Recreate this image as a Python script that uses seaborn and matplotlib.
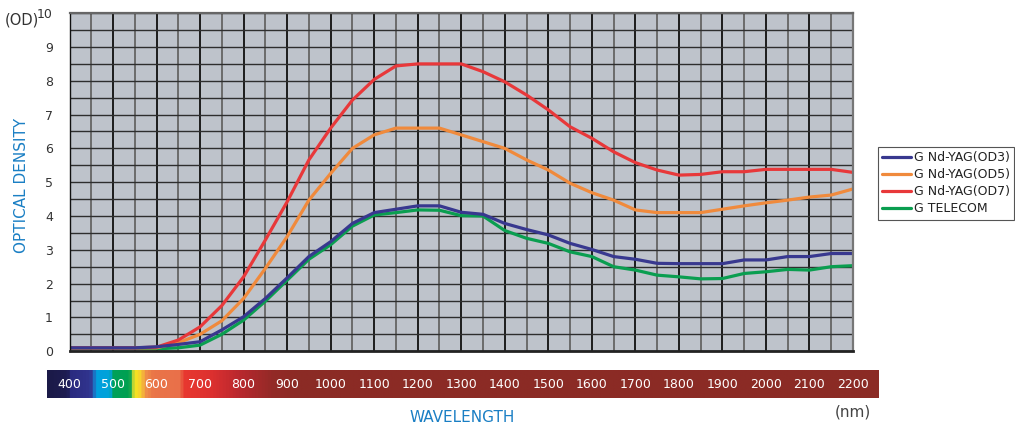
import numpy as np
import pandas as pd
import matplotlib
matplotlib.use("Agg")
import matplotlib.pyplot as plt
import seaborn as sns
from matplotlib.colors import LinearSegmentedColormap
from matplotlib.ticker import MultipleLocator

# ---------------- data ----------------
wavelength = [400, 450, 500, 550, 600, 650, 700, 750, 800, 850, 900, 950, 1000,
              1050, 1100, 1150, 1200, 1250, 1300, 1350, 1400, 1450, 1500, 1550,
              1600, 1650, 1700, 1750, 1800, 1850, 1900, 1950, 2000, 2050, 2100,
              2150, 2200]
od3 = [0.1, 0.1, 0.1, 0.1, 0.13, 0.2, 0.28, 0.63, 1.02, 1.56, 2.17, 2.8, 3.24,
       3.78, 4.1, 4.2, 4.3, 4.3, 4.11, 4.05, 3.78, 3.6, 3.44, 3.19, 3.01, 2.8,
       2.72, 2.6, 2.59, 2.59, 2.59, 2.7, 2.7, 2.8, 2.8, 2.89, 2.89]
od5 = [0.1, 0.1, 0.1, 0.1, 0.1, 0.25, 0.5, 0.9, 1.56, 2.45, 3.39, 4.47, 5.26,
       6.0, 6.4, 6.6, 6.6, 6.6, 6.4, 6.2, 6.0, 5.66, 5.36, 4.97, 4.69, 4.47,
       4.18, 4.1, 4.1, 4.1, 4.2, 4.3, 4.39, 4.47, 4.56, 4.62, 4.8]
od7 = [0.1, 0.1, 0.1, 0.1, 0.12, 0.33, 0.72, 1.35, 2.2, 3.29, 4.42, 5.66, 6.6,
       7.43, 8.04, 8.44, 8.5, 8.5, 8.5, 8.27, 7.97, 7.58, 7.14, 6.64, 6.3, 5.9,
       5.58, 5.36, 5.21, 5.23, 5.31, 5.31, 5.38, 5.38, 5.38, 5.38, 5.29]
telecom = [0.09, 0.09, 0.09, 0.09, 0.07, 0.1, 0.18, 0.5, 0.92, 1.48, 2.1, 2.72,
           3.15, 3.7, 4.03, 4.1, 4.18, 4.17, 4.01, 4.0, 3.57, 3.34, 3.19, 2.94,
           2.8, 2.5, 2.4, 2.25, 2.2, 2.14, 2.15, 2.3, 2.35, 2.42, 2.4, 2.5, 2.53]

series_names = ["G Nd-YAG(OD3)", "G Nd-YAG(OD5)", "G Nd-YAG(OD7)", "G TELECOM"]
series_values = [od3, od5, od7, telecom]
series_colors = ["#38388f", "#f08a3c", "#e8383a", "#0a9e50"]
bar_ticks = list(range(400, 2201, 100))
y_ticks = list(range(0, 11))
y_ticklabels = [str(v) for v in y_ticks]

df = pd.DataFrame({
    "wavelength": np.tile(wavelength, len(series_names)),
    "od": np.concatenate(series_values),
    "series": np.repeat(series_names, len(wavelength)),
})

# ---------------- style ----------------
sns.set_style("white")
plt.rcParams["font.family"] = ["DejaVu Sans"]

W, H = 1015, 428
fig = plt.figure(figsize=(W / 100, H / 100), dpi=100)
L, R, T, B = 69.5, 853.0, 13.2, 351.2
ax = fig.add_axes([L / W, 1 - B / H, (R - L) / W, (B - T) / H])
ax.set_facecolor("#bec3cb")

draw_order = [series_names[i] for i in (3, 1, 2, 0)]
palette = dict(zip(series_names, series_colors))
sns.lineplot(data=df, x="wavelength", y="od", hue="series", hue_order=draw_order,
             palette=palette, linewidth=2.3, ax=ax, legend=True)

ax.set_xlim(400, 2200)
ax.set_ylim(0, 10)
ax.xaxis.set_major_locator(MultipleLocator(100))
ax.xaxis.set_minor_locator(MultipleLocator(50))
ax.set_yticks(y_ticks)
ax.set_yticklabels(y_ticklabels)
ax.yaxis.set_minor_locator(MultipleLocator(0.5))
ax.set_axisbelow(True)
ax.grid(which="major", axis="x", color="#1c1c1c", linewidth=1.4)
ax.grid(which="minor", axis="x", color="#6b6b6b", linewidth=1.4)
ax.grid(which="both", axis="y", color="#2e2e2e", linewidth=1.0)
ax.tick_params(axis="x", which="both", length=0, labelbottom=False)
ax.tick_params(axis="y", which="both", length=0, labelsize=9,
               labelcolor="#333333", pad=12)
ax.set_xlabel("")
ax.set_ylabel("")
for side, col, lw in (("left", "#111111", 1.0), ("bottom", "#222222", 2.0),
                      ("top", "#666666", 1.6), ("right", "#777777", 1.6)):
    ax.spines[side].set_visible(True)
    ax.spines[side].set_color(col)
    ax.spines[side].set_linewidth(lw)

# legend in original order
handles, labels = ax.get_legend_handles_labels()
hmap = dict(zip(labels, handles))
leg = ax.legend([hmap[n] for n in series_names], series_names,
                loc="upper left", bbox_to_anchor=(878 / W, 1 - 147 / H),
                bbox_transform=fig.transFigure, frameon=True, fancybox=False,
                edgecolor="#555555", framealpha=1, fontsize=9,
                handlelength=2.3, handletextpad=0.2, borderpad=0.35,
                labelspacing=0.32, borderaxespad=0)
leg.get_frame().set_linewidth(0.8)
for t in leg.get_texts():
    t.set_color("#222222")

# axis texts
fig.text(5 / W, 1 - 20 / H, "(OD)", fontsize=10.5, color="#333333",
         ha="left", va="center")
fig.text(22 / W, 1 - 185 / H, "OPTICAL DENSITY", fontsize=11, color="#1a7fc4",
         rotation=90, ha="center", va="center")
fig.text(462 / W, 1 - 418 / H, "WAVELENGTH", fontsize=11, color="#1a7fc4",
         ha="center", va="center")
fig.text(853 / W, 1 - 412 / H, "(nm)", fontsize=11, color="#444444",
         ha="center", va="center")

# spectrum bar
bx0, bx1, by0, by1 = 47, 879, 370, 398
k = 1800 / (R - L)
xlo = 400 - (L - bx0) * k
xhi = 2200 + (bx1 - R) * k
bax = fig.add_axes([bx0 / W, 1 - by1 / H, (bx1 - bx0) / W, (by1 - by0) / H])
stops = [(xlo, "#1b1a48"), (392, "#1e1d52"), (400, "#2a2b80"), (445, "#32358f"),
         (452, "#1f6cc0"), (460, "#00a0df"), (490, "#00a3d8"), (496, "#00a05a"),
         (535, "#00a050"), (541, "#a8cf3c"), (548, "#f5e51e"), (560, "#f7d030"),
         (572, "#ef8f48"), (590, "#ea7548"), (650, "#e9704a"), (662, "#e8382f"),
         (725, "#dc3030"), (790, "#b8282e"), (865, "#932a27"), (920, "#8c2b25"),
         (xhi, "#8b2b25")]
cmap = LinearSegmentedColormap.from_list(
    "spec", [((s - xlo) / (xhi - xlo), c) for s, c in stops])
grad = np.linspace(0, 1, 2000)[None, :]
bax.imshow(grad, aspect="auto", extent=[xlo, xhi, 0, 1], cmap=cmap,
           vmin=0, vmax=1)
bax.set_xlim(xlo, xhi)
bax.set_ylim(0, 1)
bax.axis("off")
for t in bar_ticks:
    bax.text(t, 0.5, str(t), color="white", ha="center", va="center",
             fontsize=9)

fig.savefig("out.png", dpi=100)
